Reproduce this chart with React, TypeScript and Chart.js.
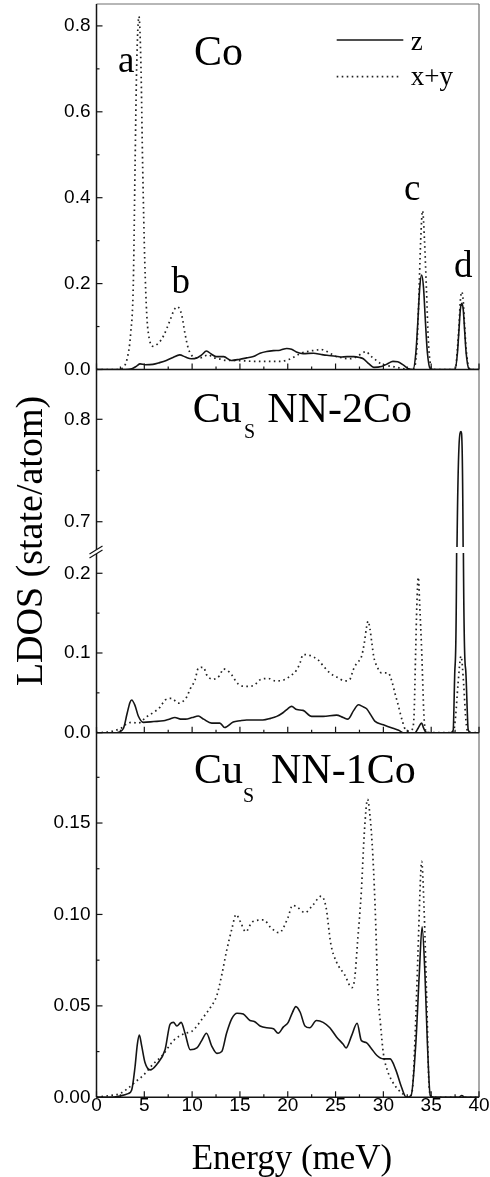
import { useEffect, useRef } from 'react';
import { Chart, registerables } from 'chart.js';

Chart.register(...registerables);

// ---------- tick values ----------
const xTicks = [0, 5, 10, 15, 20, 25, 30, 35, 40];
const coTicks = [0, 0.2, 0.4, 0.6, 0.8];
const nn2UpperTicks = [0.7, 0.8];
const nn2LowerTicks = [0, 0.1, 0.2];
const nn1Ticks = [0, 0.05, 0.1, 0.15];

// ---------- Co panel ----------
const coZE = [0, 3.0, 3.7, 4.2, 4.55, 5.1, 5.9, 6.6, 7.3, 8.0, 8.7, 9.3, 9.9, 10.5, 11.0, 11.5, 12.0, 12.5, 13.3, 14.1, 15.0, 15.7, 16.4, 17.1, 17.8, 18.5, 19.2, 19.9, 20.4, 20.9, 21.6, 22.7, 23.5, 24.1, 25.0, 25.5, 26.2, 26.9, 27.5, 27.9, 28.5, 29.0, 29.8, 30.4, 31.0, 31.5, 32.1, 32.6, 33.1, 33.4, 33.6, 33.8, 34.0, 34.2, 34.4, 34.6, 34.9, 35.3, 37.5, 37.75, 37.9, 38.05, 38.2, 38.35, 38.5, 38.65, 38.95, 39.3, 40];
const coZ = [0, 0, 0.002, 0.008, 0.013, 0.011, 0.012, 0.016, 0.021, 0.028, 0.034, 0.029, 0.025, 0.027, 0.034, 0.043, 0.036, 0.030, 0.030, 0.021, 0.024, 0.027, 0.030, 0.038, 0.042, 0.044, 0.045, 0.049, 0.047, 0.041, 0.037, 0.038, 0.035, 0.033, 0.031, 0.029, 0.030, 0.030, 0.028, 0.025, 0.013, 0.005, 0.007, 0.013, 0.019, 0.018, 0.010, 0.002, 0, 0.04, 0.11, 0.19, 0.22, 0.19, 0.11, 0.04, 0.002, 0, 0, 0.04, 0.09, 0.14, 0.154, 0.14, 0.09, 0.04, 0.002, 0, 0];

const coXYE = [0, 2.2, 2.8, 3.2, 3.58, 3.85, 4.03, 4.2, 4.44, 4.65, 4.83, 5.05, 5.25, 5.42, 5.9, 6.5, 7.0, 7.7, 8.1, 8.45, 8.9, 9.25, 9.6, 10.1, 10.8, 11.7, 12.2, 13.0, 13.6, 14.5, 15.5, 16.4, 17.8, 19.2, 20.2, 20.8, 21.3, 22.3, 23.0, 23.4, 24.0, 24.4, 25.0, 25.5, 26.5, 27.2, 27.8, 28.2, 28.6, 29.0, 29.7, 30.4, 31.0, 31.8, 32.5, 33.2, 33.5, 33.7, 33.9, 34.1, 34.3, 34.5, 34.7, 35.0, 35.4, 37.5, 37.75, 37.9, 38.05, 38.2, 38.35, 38.5, 38.65, 38.95, 39.3, 40];
const coXY = [0, 0, 0.005, 0.025, 0.085, 0.2, 0.47, 0.705, 0.822, 0.705, 0.47, 0.25, 0.13, 0.085, 0.054, 0.062, 0.078, 0.115, 0.138, 0.146, 0.128, 0.084, 0.049, 0.03, 0.027, 0.034, 0.028, 0.024, 0.021, 0.021, 0.02, 0.019, 0.019, 0.019, 0.024, 0.031, 0.037, 0.043, 0.045, 0.047, 0.043, 0.038, 0.031, 0.028, 0.025, 0.030, 0.038, 0.042, 0.033, 0.026, 0.014, 0.009, 0.007, 0.003, 0.001, 0.003, 0.05, 0.16, 0.3, 0.37, 0.3, 0.19, 0.07, 0.005, 0, 0, 0.05, 0.1, 0.16, 0.181, 0.16, 0.1, 0.05, 0.003, 0, 0];

// ---------- Cu_s NN-2Co panel ----------
const nn2ZE = [0, 2.1, 2.8, 3.2, 3.5, 3.68, 4.03, 4.37, 4.9, 6.0, 7.0, 7.6, 8.2, 8.8, 9.3, 10.0, 10.65, 11.2, 12.05, 12.9, 13.4, 14.3, 15.0, 15.7, 17.4, 18.2, 18.85, 19.5, 20.0, 20.4, 20.95, 21.6, 22.5, 23.7, 25.1, 25.8, 26.3, 26.9, 27.4, 27.8, 28.25, 28.7, 29.1, 30.0, 31.0, 31.6, 32.1, 33.3, 33.65, 34.0, 34.2, 34.46, 34.8, 37.0, 37.3, 37.48, 37.66, 37.7, 38.12, 38.34, 38.37, 38.6, 38.88, 39.2, 40];
const nn2Z = [0, 0, 0.005, 0.024, 0.038, 0.041, 0.034, 0.021, 0.013, 0.014, 0.015, 0.017, 0.019, 0.017, 0.017, 0.019, 0.021, 0.017, 0.012, 0.012, 0.0065, 0.0135, 0.015, 0.016, 0.016, 0.018, 0.0205, 0.025, 0.030, 0.033, 0.029, 0.028, 0.0205, 0.0205, 0.022, 0.019, 0.017, 0.028, 0.035, 0.033, 0.03, 0.022, 0.0145, 0.01, 0.0055, 0.003, 0, 0, 0.006, 0.012, 0.006, 0.0005, 0, 0, 0.003, 0.08, 0.225, 0.675, 0.788, 0.675, 0.225, 0.08, 0.003, 0, 0];

const nn2XYE = [0, 1.3, 2.0, 2.6, 3.0, 3.68, 4.37, 5.18, 5.95, 6.65, 7.17, 7.87, 8.56, 9.0, 9.44, 9.8, 10.3, 10.65, 11.2, 11.5, 12.15, 12.9, 13.25, 13.9, 14.83, 15.6, 16.4, 17.2, 18.0, 18.7, 19.55, 20.25, 20.95, 21.3, 21.6, 22.3, 23.2, 23.7, 24.4, 25.1, 26.0, 26.5, 26.85, 27.2, 27.7, 28.0, 28.25, 28.4, 28.6, 28.8, 29.0, 29.3, 29.8, 30.5, 30.9, 31.2, 31.5, 31.75, 32.0, 32.3, 32.7, 33.0, 33.2, 33.38, 33.5, 33.65, 33.8, 34.0, 34.25, 34.45, 34.7, 37.3, 37.55, 37.8, 38.12, 38.4, 38.6, 38.8, 39.1, 40];
const nn2XY = [0, 0.001, 0.003, 0.006, 0.010, 0.013, 0.012, 0.0195, 0.0255, 0.032, 0.041, 0.043, 0.037, 0.039, 0.045, 0.055, 0.066, 0.081, 0.082, 0.073, 0.067, 0.072, 0.08, 0.076, 0.061, 0.058, 0.059, 0.067, 0.068, 0.065, 0.066, 0.071, 0.079, 0.088, 0.098, 0.097, 0.091, 0.084, 0.075, 0.07, 0.065, 0.067, 0.079, 0.087, 0.095, 0.112, 0.133, 0.14, 0.13, 0.112, 0.095, 0.084, 0.075, 0.075, 0.064, 0.05, 0.037, 0.025, 0.014, 0.004, 0.002, 0.004, 0.02, 0.104, 0.16, 0.195, 0.16, 0.104, 0.02, 0.002, 0, 0, 0.02, 0.06, 0.096, 0.06, 0.02, 0.002, 0, 0];

// ---------- Cu_s NN-1Co panel ----------
const nn1ZE = [0, 1.4, 2.45, 3.3, 3.68, 4.03, 4.27, 4.48, 4.73, 5.07, 5.6, 6.3, 7.17, 7.7, 8.05, 8.4, 8.85, 9.26, 9.8, 10.5, 11.0, 11.5, 12.05, 12.6, 13.1, 13.6, 14.15, 14.7, 15.35, 16.05, 16.5, 17.1, 17.8, 18.5, 19.0, 19.55, 20.05, 20.5, 20.85, 21.3, 21.8, 22.3, 23.0, 23.7, 24.4, 25.1, 25.8, 26.1, 26.7, 27.25, 27.7, 28.2, 28.7, 29.3, 30.0, 30.7, 31.3, 31.9, 32.4, 32.9, 33.4, 33.75, 34.05, 34.35, 34.6, 34.9, 35.3, 37.9, 38.2, 38.5, 40];
const nn1Z = [0, 0, 0.0007, 0.002, 0.004, 0.0167, 0.029, 0.034, 0.028, 0.019, 0.015, 0.018, 0.026, 0.040, 0.041, 0.039, 0.041, 0.035, 0.026, 0.027, 0.031, 0.035, 0.028, 0.024, 0.025, 0.035, 0.043, 0.046, 0.0455, 0.042, 0.0415, 0.039, 0.038, 0.0375, 0.035, 0.0385, 0.041, 0.0465, 0.0496, 0.0465, 0.039, 0.038, 0.042, 0.041, 0.038, 0.033, 0.029, 0.027, 0.034, 0.0405, 0.031, 0.030, 0.027, 0.023, 0.021, 0.021, 0.015, 0.0055, 0, 0.001, 0.030, 0.067, 0.0933, 0.067, 0.03, 0.001, 0, 0, 0.001, 0, 0];

const nn1XYE = [0, 1.4, 2.45, 3.3, 4.2, 4.9, 5.9, 6.9, 8.05, 9.26, 9.95, 10.5, 11.2, 11.9, 12.6, 13.1, 13.6, 14.15, 14.6, 15.05, 15.6, 16.3, 17.5, 18.2, 19.1, 20.0, 20.5, 21.0, 21.8, 22.6, 23.5, 24.0, 24.5, 25.1, 25.95, 26.7, 27.0, 27.3, 27.7, 28.0, 28.35, 28.6, 28.9, 29.2, 29.4, 29.7, 30.0, 30.4, 30.9, 31.5, 32.0, 32.6, 33.0, 33.3, 33.6, 33.9, 34.0, 34.25, 34.55, 34.8, 35.1, 40];
const nn1XY = [0, 0.001, 0.002, 0.005, 0.009, 0.012, 0.018, 0.023, 0.031, 0.035, 0.036, 0.039, 0.044, 0.049, 0.056, 0.067, 0.08, 0.092, 0.1, 0.096, 0.0905, 0.096, 0.097, 0.093, 0.09, 0.098, 0.105, 0.104, 0.101, 0.105, 0.11, 0.104, 0.084, 0.074, 0.067, 0.06, 0.065, 0.085, 0.113, 0.144, 0.163, 0.154, 0.132, 0.095, 0.06, 0.04, 0.024, 0.015, 0.009, 0.0045, 0.002, 0, 0.003, 0.031, 0.076, 0.122, 0.129, 0.104, 0.05, 0.004, 0, 0];

const SERIF = '"Liberation Serif", "Times New Roman", serif';
const SANS = '"Liberation Sans", Arial, sans-serif';
const INK = '#141414';

function pts(xs: number[], ys: number[]) {
  return xs.map((x, i) => ({ x, y: ys[i] }));
}

function minorOf(ticks: number[], min: number, max: number) {
  const step = ticks[1] - ticks[0];
  const out: number[] = [];
  ticks.forEach((t) => {
    [t - step / 2, t + step / 2].forEach((m) => {
      const r = Math.round(m * 1e6) / 1e6;
      if (r > min && r < max && !out.includes(r)) out.push(r);
    });
  });
  return out;
}

const solid = (data: any, axis: string) => ({
  data,
  yAxisID: axis,
  borderColor: INK,
  borderWidth: 1.6,
  pointRadius: 0,
  fill: false,
  cubicInterpolationMode: 'monotone' as const,
});

const dotted = (data: any, axis: string) => ({
  data,
  yAxisID: axis,
  borderColor: '#222',
  borderWidth: 1.7,
  borderDash: [1.6, 3.4],
  pointRadius: 0,
  fill: false,
  cubicInterpolationMode: 'monotone' as const,
});

const yScale = (
  weight: number,
  min: number,
  max: number,
  ticks: number[],
  digits: number
) => ({
  type: 'linear' as const,
  position: 'left' as const,
  stack: 'v',
  stackWeight: weight,
  min,
  max,
  grid: { display: false, drawTicks: false },
  border: { display: false },
  afterBuildTicks: (s: any) => {
    s.ticks = ticks.map((v) => ({ value: v }));
  },
  afterFit: (s: any) => {
    s.width = 96.5;
    s.paddingTop = 0;
    s.paddingBottom = 0;
  },
  ticks: {
    autoSkip: false,
    includeBounds: false,
    padding: 6,
    color: '#000',
    font: { family: SANS, size: 19 },
    callback: (v: any) => Number(v).toFixed(digits),
  },
});

const decor = {
  id: 'decor',
  beforeDatasetDraw(chart: any, args: any) {
    const ys = args.meta.yScale;
    const ca = chart.chartArea;
    const ctx = chart.ctx;
    let top = ys.top - 1;
    let bottom = ys.bottom + 1;
    if (ys.id === 'y2b') bottom = ys.bottom - 3;
    if (ys.id === 'y2a') top = ys.top + 3;
    ctx.save();
    ctx.beginPath();
    ctx.rect(ca.left, top, ca.right - ca.left, bottom - top);
    ctx.clip();
  },
  afterDatasetDraw(chart: any) {
    chart.ctx.restore();
  },
  afterDraw(chart: any) {
    const { ctx, chartArea: ca, scales } = chart;
    const L = ca.left;
    const R = ca.right;
    const seg = (x1: number, y1: number, x2: number, y2: number) => {
      ctx.beginPath();
      ctx.moveTo(x1, y1);
      ctx.lineTo(x2, y2);
      ctx.stroke();
    };
    ctx.save();
    ctx.lineCap = 'butt';
    ctx.setLineDash([]);
    // top and right frame
    ctx.strokeStyle = '#707070';
    ctx.lineWidth = 1.2;
    seg(L, ca.top, R, ca.top);
    seg(R, ca.top, R, ca.bottom);
    // left axis
    ctx.strokeStyle = INK;
    ctx.lineWidth = 1.5;
    seg(L, ca.top, L, ca.bottom);
    // bottom axes of each panel with inward ticks
    const sx = scales.x;
    const xMinor = minorOf(xTicks, 0, 40);
    [scales.y1.bottom, scales.y2a.bottom, scales.y3.bottom].forEach((b: number) => {
      ctx.lineWidth = 1.5;
      seg(L, b, R, b);
      ctx.lineWidth = 1.2;
      xTicks.forEach((v) => {
        const p = sx.getPixelForValue(v);
        seg(p, b, p, b - 6);
      });
      xMinor.forEach((v) => {
        const p = sx.getPixelForValue(v);
        seg(p, b, p, b - 3);
      });
    });
    // y ticks
    const ySets: [string, number[]][] = [
      ['y1', coTicks],
      ['y2b', nn2UpperTicks],
      ['y2a', nn2LowerTicks],
      ['y3', nn1Ticks],
    ];
    ySets.forEach(([id, t]) => {
      const s = scales[id];
      ctx.lineWidth = 1.2;
      t.forEach((v) => {
        const p = s.getPixelForValue(v);
        seg(L, p, L + 6, p);
      });
      minorOf(t, s.min, s.max).forEach((v) => {
        const p = s.getPixelForValue(v);
        seg(L, p, L + 3, p);
      });
    });
    // axis break mark
    const yb = scales.y2a.top;
    ctx.fillStyle = '#fff';
    ctx.beginPath();
    ctx.moveTo(L - 7, yb + 4);
    ctx.lineTo(L + 6, yb - 4);
    ctx.lineTo(L + 6, yb + 0);
    ctx.lineTo(L - 7, yb + 8);
    ctx.closePath();
    ctx.fill();
    ctx.lineWidth = 1.1;
    seg(L - 7, yb + 4, L + 6, yb - 4);
    seg(L - 7, yb + 8, L + 6, yb + 0);

    // texts
    ctx.fillStyle = '#000';
    ctx.textBaseline = 'alphabetic';
    ctx.textAlign = 'left';
    ctx.font = `42px ${SERIF}`;
    ctx.fillText('Co', 194, 65);
    ctx.fillText('Cu', 192.7, 421.7);
    ctx.fillText('NN-2Co', 267.3, 421.7);
    ctx.fillText('Cu', 194, 782.7);
    ctx.fillText('NN-1Co', 271, 782.7);
    ctx.font = `20px ${SERIF}`;
    ctx.fillText('S', 244, 438);
    ctx.fillText('S', 243, 802);
    // peak letters
    ctx.font = `37px ${SERIF}`;
    ctx.fillText('a', 118, 71.7);
    ctx.fillText('b', 171.5, 293.3);
    ctx.fillText('c', 404, 200);
    ctx.fillText('d', 454, 277.3);
    // legend
    ctx.strokeStyle = INK;
    ctx.lineWidth = 1.6;
    seg(336.7, 40, 403.3, 40);
    ctx.strokeStyle = '#222';
    ctx.lineWidth = 1.7;
    ctx.setLineDash([1.6, 3.4]);
    seg(336.7, 76.7, 400, 76.7);
    ctx.setLineDash([]);
    ctx.font = `27px ${SERIF}`;
    ctx.fillText('z', 410.7, 50);
    ctx.fillText('x+y', 410.7, 85);
    // axis titles
    ctx.font = `35px ${SERIF}`;
    ctx.textAlign = 'center';
    ctx.fillText('Energy (meV)', 292, 1169);
    ctx.save();
    ctx.translate(42, 541);
    ctx.rotate(-Math.PI / 2);
    ctx.font = `38px ${SERIF}`;
    ctx.fillText('LDOS (state/atom)', 0, 0);
    ctx.restore();
    ctx.restore();
  },
};

export default function App() {
  const ref = useRef<HTMLCanvasElement | null>(null);
  useEffect(() => {
    document.body.style.margin = '0';
    const canvas = ref.current;
    if (!canvas) return;
    const chart = new Chart(canvas, {
      type: 'line',
      data: {
        datasets: [
          solid(pts(coZE, coZ), 'y1'),
          dotted(pts(coXYE, coXY), 'y1'),
          solid(pts(nn2ZE, nn2Z), 'y2a'),
          solid(pts(nn2ZE, nn2Z), 'y2b'),
          dotted(pts(nn2XYE, nn2XY), 'y2a'),
          solid(pts(nn1ZE, nn1Z), 'y3'),
          dotted(pts(nn1XYE, nn1XY), 'y3'),
        ] as any,
      },
      options: {
        animation: false,
        responsive: false,
        devicePixelRatio: 1,
        layout: { padding: { top: 4, right: 11, left: 0, bottom: 0 } },
        plugins: { legend: { display: false }, tooltip: { enabled: false } },
        scales: {
          x: {
            type: 'linear',
            position: 'bottom',
            min: 0,
            max: 40,
            grid: { display: false, drawTicks: false },
            border: { display: false },
            afterBuildTicks: (s: any) => {
              s.ticks = xTicks.map((v) => ({ value: v }));
            },
            afterFit: (s: any) => {
              s.height = 1177 - 1097.3;
              s.paddingLeft = 0;
              s.paddingRight = 0;
            },
            ticks: {
              autoSkip: false,
              maxRotation: 0,
              padding: -3,
              color: '#000',
              font: { family: SANS, size: 19 },
              callback: (v: any) => String(v),
            },
          },
          y3: yScale(364.6, 0, 0.1994, nn1Ticks, 2),
          y2a: yScale(182.7, 0, 0.2292, nn2LowerTicks, 1),
          y2b: yScale(180.5, 0.6724, 0.8486, nn2UpperTicks, 1),
          y1: yScale(365.5, 0, 0.851, coTicks, 1),
        } as any,
      },
      plugins: [decor],
    });
    return () => chart.destroy();
  }, []);
  return (
    <canvas
      ref={ref}
      width={490}
      height={1177}
      style={{ display: 'block', width: 490, height: 1177 }}
    />
  );
}
